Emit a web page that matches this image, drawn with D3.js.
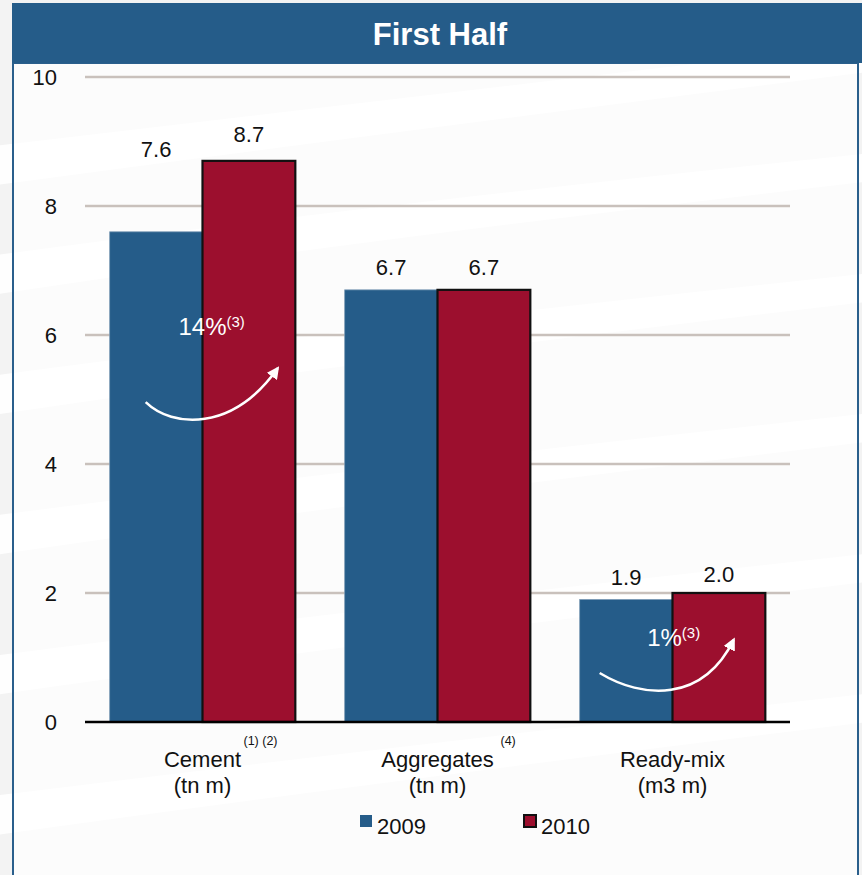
<!DOCTYPE html>
<html>
<head>
<meta charset="utf-8">
<script src="https://cdn.jsdelivr.net/npm/d3@7"></script>
<style>
  html, body { margin: 0; padding: 0; background: #ffffff; }
  svg { display: block; font-family: "Liberation Sans", Arial, sans-serif; }
</style>
</head>
<body>
<svg id="chart" width="862" height="875"></svg>
<script>
// ---- data ----
const categories = ["Cement", "Aggregates", "Ready-mix"];
const units = ["(tn m)", "(tn m)", "(m3 m)"];
const footnotes = ["(1) (2)", "(4)", ""];
const seriesNames = ["2009", "2010"];
const values2009 = [7.6, 6.7, 1.9];
const values2010 = [8.7, 6.7, 2.0];
const valueLabels2009 = ["7.6", "6.7", "1.9"];
const valueLabels2010 = ["8.7", "6.7", "2.0"];
const growthLabels = ["14%", null, "1%"];
const yTicks = [0, 2, 4, 6, 8, 10];

// ---- layout ----
const W = 862, H = 875;
const plot = { left: 85, right: 790, top: 77, bottom: 722 };
const blue = "#255c89", red = "#9c0f2e";
const FS = 22;

const svg = d3.select("#chart");

// soft swoosh backdrop
const bg = svg.append("g");
bg.append("rect").attr("width", W).attr("height", H).attr("fill", "#f3f3f3");
const swooshes = [
  [-40, 150, 300, 110, 900, 40], [-40, 260, 320, 210, 900, 150],
  [-40, 380, 330, 330, 900, 270], [-40, 520, 340, 470, 900, 410],
  [-40, 660, 350, 610, 900, 550], [-40, 800, 360, 750, 900, 690]
];
swooshes.forEach(s => {
  bg.append("path")
    .attr("d", `M${s[0]},${s[1]} Q${s[2]},${s[3]} ${s[4]},${s[5]} L${s[4]},${s[5] + 28} Q${s[2]},${s[3] + 34} ${s[0]},${s[1] + 40} Z`)
    .attr("fill", "#ffffff").attr("opacity", 0.9);
});

// panel
svg.append("rect").attr("x", 13).attr("y", 63).attr("width", 845).attr("height", 820)
  .attr("fill", "#ffffff").attr("fill-opacity", 0.72)
  .attr("stroke", "#2a5f8c").attr("stroke-width", 2);
svg.append("rect").attr("x", 12).attr("y", 3).attr("width", 850).attr("height", 60).attr("fill", "#255c89");
svg.append("text").attr("x", 440).attr("y", 45).attr("text-anchor", "middle")
  .attr("fill", "#ffffff").attr("font-size", 31).attr("font-weight", "bold").text("First Half");

// ---- scales ----
const x = d3.scaleBand().domain(categories).range([plot.left, plot.right])
  .paddingInner(0.21).paddingOuter(0.105);
const xs = d3.scaleBand().domain(seriesNames).range([0, x.bandwidth()]);
const y = d3.scaleLinear().domain([0, 10]).range([plot.bottom, plot.top]);

// gridlines + tick labels
const grid = svg.append("g");
yTicks.filter(t => t > 0).forEach(t => {
  grid.append("line").attr("x1", plot.left).attr("x2", plot.right)
    .attr("y1", y(t)).attr("y2", y(t)).attr("stroke", "#c9c1bc").attr("stroke-width", 2.5);
});
const yAxis = d3.axisLeft(y).tickValues(yTicks).tickSize(0).tickPadding(0).tickFormat(d3.format("d"));
const gy = svg.append("g").attr("transform", "translate(57,0)").call(yAxis);
gy.select(".domain").remove();
gy.selectAll("text").attr("font-size", FS).attr("fill", "#111").attr("dy", "0.35em")
  .attr("font-family", "Liberation Sans, Arial, sans-serif");

// bars
const rows = categories.map((c, i) => ({ c, i, v: [values2009[i], values2010[i]] }));
const groups = svg.append("g").selectAll("g").data(rows).join("g")
  .attr("transform", d => `translate(${x(d.c)},0)`);

groups.append("rect").attr("class", "b2009")
  .attr("x", xs("2009")).attr("width", xs.bandwidth())
  .attr("y", d => y(d.v[0])).attr("height", d => y(0) - y(d.v[0]))
  .attr("fill", blue).attr("stroke", "#7d9bb6").attr("stroke-width", 0.8);
groups.append("rect").attr("class", "b2010")
  .attr("x", xs("2010")).attr("width", xs.bandwidth())
  .attr("y", d => y(d.v[1])).attr("height", d => y(0) - y(d.v[1]))
  .attr("fill", red).attr("stroke", "#111").attr("stroke-width", 2.2);

// baseline
svg.append("line").attr("x1", plot.left).attr("x2", plot.right)
  .attr("y1", y(0)).attr("y2", y(0)).attr("stroke", "#000").attr("stroke-width", 2.5);

// value labels (lift above bar top, px)
const lift2009 = [75, 15, 14];
const lift2010 = [19, 15, 11];
groups.append("text").attr("text-anchor", "middle").attr("font-size", FS).attr("fill", "#111")
  .attr("x", xs("2009") + xs.bandwidth() / 2)
  .attr("y", d => y(d.v[0]) - lift2009[d.i]).text(d => valueLabels2009[d.i]);
groups.append("text").attr("text-anchor", "middle").attr("font-size", FS).attr("fill", "#111")
  .attr("x", xs("2010") + xs.bandwidth() / 2)
  .attr("y", d => y(d.v[1]) - lift2010[d.i]).text(d => valueLabels2010[d.i]);

// growth arrows
svg.append("defs").append("marker").attr("id", "head")
  .attr("viewBox", "0 0 10 10").attr("refX", 8).attr("refY", 5)
  .attr("markerWidth", 5).attr("markerHeight", 5).attr("orient", "auto")
  .append("path").attr("d", "M0,0 L10,5 L0,10 Z").attr("fill", "#fff");

const arrowGeom = [
  { sx: 36, sy: 4.96, ex: 170, ey: 5.53, tx: 102, ty: 6.0 },
  null,
  { sx: 20, sy: 0.76, ex: 156, ey: 1.32, tx: 94, ty: 1.18 }
];
rows.forEach(d => {
  const g = arrowGeom[d.i];
  if (!g || !growthLabels[d.i]) return;
  const x0 = x(d.c);
  const p0 = [x0 + g.sx, y(g.sy)], p2 = [x0 + g.ex, y(g.ey)];
  const mid = x0 + xs.bandwidth();
  const ctrlY = y(g.sy) + 26;
  svg.append("path")
    .attr("d", `M${p0[0]},${p0[1]} C${mid - 30},${ctrlY} ${mid + 30},${ctrlY + 4} ${p2[0] - 2},${p2[1] + 3}`)
    .attr("fill", "none").attr("stroke", "#fff").attr("stroke-width", 2.5)
    .attr("marker-end", "url(#head)");
  const t = svg.append("text").attr("x", x0 + g.tx).attr("y", y(g.ty))
    .attr("text-anchor", "middle").attr("fill", "#fff").attr("font-size", 24);
  t.append("tspan").text(growthLabels[d.i]);
  t.append("tspan").attr("font-size", 15).attr("dy", -8).text("(3)");
});

// category labels
const cat = svg.append("g").selectAll("g").data(rows).join("g")
  .attr("transform", d => `translate(${x(d.c) + x.bandwidth() / 2},0)`);
cat.append("text").attr("text-anchor", "middle").attr("y", 767).attr("font-size", FS)
  .attr("fill", "#111").text(d => d.c);
cat.append("text").attr("text-anchor", "middle").attr("y", 793).attr("font-size", FS)
  .attr("fill", "#111").text(d => units[d.i]);
cat.append("text").attr("x", d => [41, 63, 0][d.i]).attr("y", 745).attr("font-size", 12.5)
  .attr("fill", "#111").text(d => footnotes[d.i]);

// legend
const legend = svg.append("g").attr("transform", "translate(360,815)");
const lg = legend.selectAll("g").data(seriesNames).join("g")
  .attr("transform", (d, i) => `translate(${i * 164},0)`);
lg.append("rect").attr("width", 12).attr("height", 12)
  .attr("fill", (d, i) => i ? red : blue)
  .attr("stroke", (d, i) => i ? "#111" : "none").attr("stroke-width", 2);
lg.append("text").attr("x", 17).attr("y", 19).attr("font-size", FS).attr("fill", "#111").text(d => d);
</script>
</body>
</html>
